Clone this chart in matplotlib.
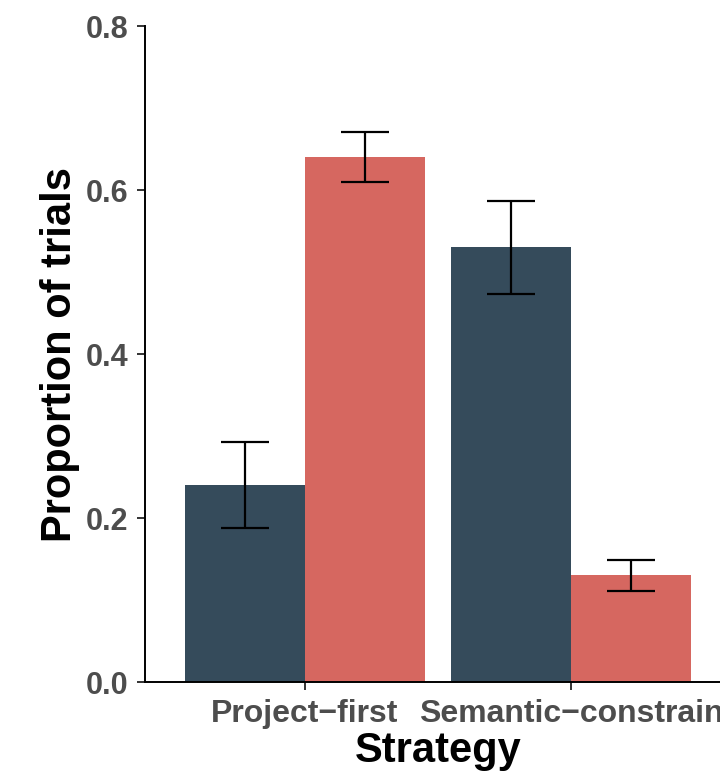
import numpy as np
import matplotlib
matplotlib.use("Agg")
import matplotlib.pyplot as plt

plt.rcParams["font.family"] = ["Liberation Sans", "DejaVu Sans"]
plt.rcParams["font.weight"] = "bold"

strategies = ["Project\u2212first", "Semantic\u2212constrain"]
groups = ["dark", "red"]
colors = ["#354B5B", "#D66760"]
means = [[0.240, 0.530], [0.640, 0.130]]
err_low = [[0.188, 0.473], [0.610, 0.111]]
err_high = [[0.293, 0.587], [0.671, 0.149]]

fig = plt.figure(figsize=(7.2, 7.72), dpi=100)
ax = fig.add_axes([145 / 720, 1 - 682 / 772, (731 - 145) / 720, (682 - 26) / 772])

x = np.arange(1, len(strategies) + 1)
width = 0.45
for k, g in enumerate(groups):
    xs = x + (k - 0.5) * width
    ax.bar(xs, means[k], width=width, color=colors[k], zorder=1)
    m = np.array(means[k])
    yerr = [m - np.array(err_low[k]), np.array(err_high[k]) - m]
    ax.errorbar(xs, m, yerr=yerr, fmt="none", ecolor="black", elinewidth=1.6,
                capsize=17, capthick=1.6, zorder=3)

ax.set_xlim(0.4, 2.6)
ax.set_ylim(0, 0.8)
ax.set_yticks([0.0, 0.2, 0.4, 0.6, 0.8])
ax.set_yticklabels(["0.0", "0.2", "0.4", "0.6", "0.8"])
ax.set_xticks(x)
ax.set_xticklabels(strategies)

for s in ["top", "right"]:
    ax.spines[s].set_visible(False)
for s in ["left", "bottom"]:
    ax.spines[s].set_linewidth(1.4)
    ax.spines[s].set_color("black")

ax.tick_params(axis="y", length=6, width=1.4, color="#333333",
               labelsize=22, labelcolor="#4D4D4D", pad=6)
ax.tick_params(axis="x", length=6, width=1.4, color="#333333",
               labelsize=23, labelcolor="#4D4D4D", pad=6)
for lab in ax.get_xticklabels() + ax.get_yticklabels():
    lab.set_fontweight("bold")

ax.set_xlabel("Strategy", fontsize=30, fontweight="bold", color="black", labelpad=2)
ax.set_ylabel("Proportion of trials", fontsize=30, fontweight="bold", color="black", labelpad=4)

fig.savefig("out.png", dpi=100)
